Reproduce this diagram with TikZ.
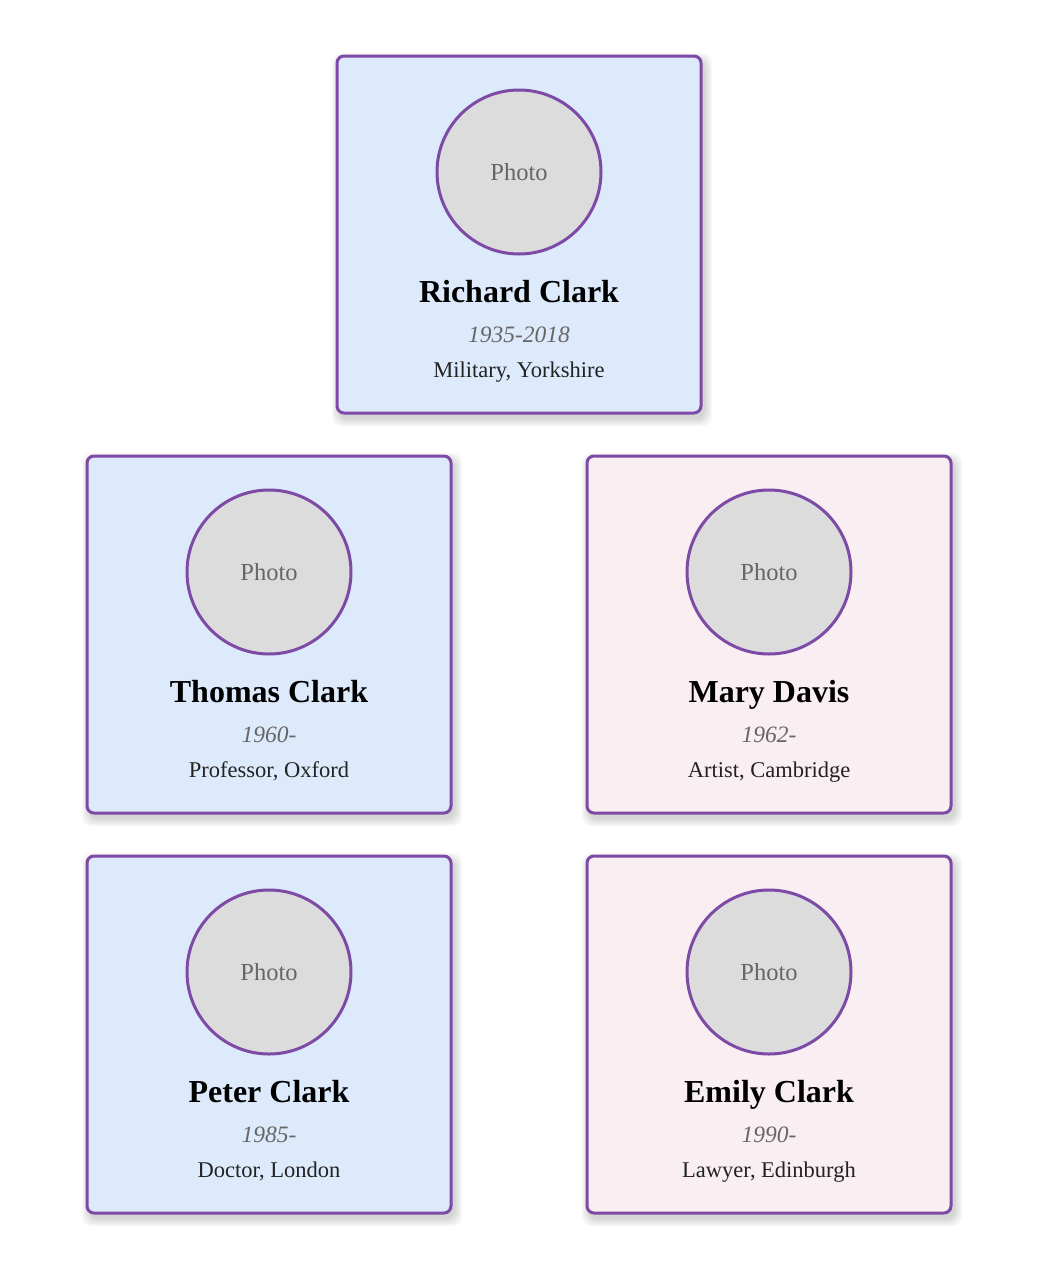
\documentclass[tikz,border=0pt]{standalone}
\usepackage{fontspec}
\setmainfont{Liberation Serif}
\definecolor{cardborder}{HTML}{7D4AA5}
\definecolor{bluefill}{HTML}{DDEAFB}
\definecolor{pinkfill}{HTML}{F9EEF2}
\definecolor{photofill}{HTML}{DCDCDC}
\definecolor{greytext}{HTML}{666666}
\definecolor{occtext}{HTML}{222222}
\tikzset{
  cardbox/.style={draw=cardborder, line width=3pt, rounded corners=7pt},
  photocircle/.style={circle, draw=cardborder, line width=3pt, fill=photofill, minimum size=164pt, inner sep=0pt, font=\fontsize{24.5}{26}\selectfont, text=greytext},
  nametext/.style={anchor=base, font=\fontsize{32}{34}\selectfont\bfseries, text=black, inner sep=0pt},
  datetext/.style={anchor=base, font=\fontsize{23.5}{25}\selectfont\itshape, text=greytext, inner sep=0pt},
  occtext/.style={anchor=base, font=\fontsize{22.5}{24}\selectfont, text=occtext, inner sep=0pt},
}
% #1 id, #2 center x, #3 top y, #4 fill, #5 name, #6 dates, #7 occupation
\newcommand\famcard[7]{%
  \foreach \k in {1,...,7}{
    \fill[black, opacity=0.025, rounded corners=10pt]
      (#2-182-\k*1.2+3,#3-\k*1.2+5) rectangle (#2+182+\k*1.2+3,#3+357+\k*1.2+5);
  }
  \draw[cardbox, fill=#4] (#2-182,#3) rectangle (#2+182,#3+357);
  \node[photocircle] (#1photo) at (#2,#3+116) {Photo};
  \node[nametext] (#1name) at (#2,#3+246) {#5};
  \node[datetext] (#1dates) at (#2,#3+286) {#6};
  \node[occtext] (#1occ) at (#2,#3+321) {#7};
}
\begin{document}
\begin{tikzpicture}[x=1pt,y=-1pt]
\useasboundingbox[fill=white] (0,0) rectangle (1038,1266);
\famcard{richard}{519}{56}{bluefill}{Richard Clark}{1935-2018}{Military, Yorkshire}
\famcard{thomas}{269}{456}{bluefill}{Thomas Clark}{1960-}{Professor, Oxford}
\famcard{mary}{769}{456}{pinkfill}{Mary Davis}{1962-}{Artist, Cambridge}
\famcard{peter}{269}{856}{bluefill}{Peter Clark}{1985-}{Doctor, London}
\famcard{emily}{769}{856}{pinkfill}{Emily Clark}{1990-}{Lawyer, Edinburgh}
\end{tikzpicture}
\end{document}
